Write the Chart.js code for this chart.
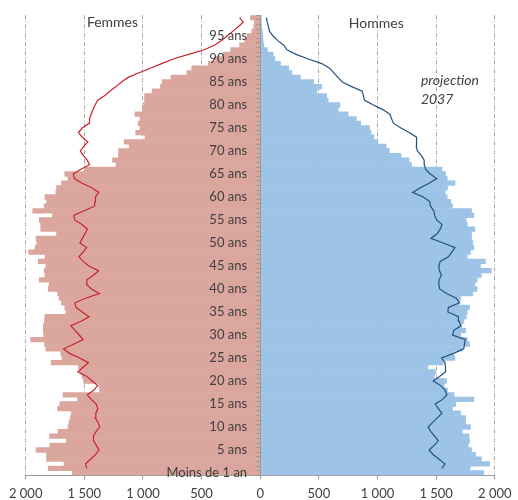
<!DOCTYPE html>
<html><head><meta charset="utf-8">
<script src="https://cdn.jsdelivr.net/npm/chart.js@4.4.0/dist/chart.umd.min.js"></script>
<style>html,body{margin:0;padding:0;background:#fff;}canvas{display:block;}</style>
</head><body>
<canvas id="c" width="518" height="500"></canvas>
<script>
// Ages 0..99 (index = age)
const categories = Array.from({length: 100}, (_, a) => a === 0 ? 'Moins de 1 an' : a + (a === 1 ? ' an' : ' ans'));

const femmes = [1602,1808,1673,1822,1822,1912,1794,1653,1797,1725,
 1639,1630,1620,1610,1728,1709,1558,1681,1370,1375,
 1506,1518,1535,1550,1783,1690,1700,1828,1840,1958,
 1847,1850,1850,1840,1836,1658,1667,1695,1715,1728,
 1808,1800,1884,1836,1842,1828,1893,1836,1974,1920,
 1906,1912,1737,1872,1872,1884,1771,1940,1842,1822,
 1836,1743,1737,1695,1639,1667,1490,1230,1259,1209,
 1209,1118,1160,983,1062,1025,1040,1025,1068,1006,
 998,986,986,922,851,837,761,626,584,443,
 387,317,252,176,133,111,72,55,49,83];

const hommes = [1906,1790,1955,1886,1836,1802,1773,1785,1780,1723,
 1793,1751,1751,1709,1639,1667,1822,1653,1597,1568,
 1588,1484,1495,1430,1560,1660,1650,1723,1785,1765,
 1709,1751,1718,1737,1757,1765,1785,1695,1709,1813,
 1850,1830,1850,1886,1971,1878,1920,1765,1793,1822,
 1813,1802,1802,1830,1765,1757,1822,1802,1639,1625,
 1594,1577,1597,1661,1594,1580,1550,1290,1270,1200,
 1101,1074,1003,970,946,932,857,820,750,665,
 679,580,567,483,525,454,342,270,243,173,
 125,110,61,30,24,22,18,12,10,8];

// Projection 2037 (no value for age 0)
const projFemmes = [null,1480,1490,1447,1405,1375,1398,1420,1422,1400,
 1369,1383,1407,1402,1385,1398,1441,1474,1420,1386,
 1433,1479,1555,1511,1465,1540,1626,1678,1592,1510,
 1543,1579,1615,1527,1460,1518,1570,1580,1490,1372,
 1440,1481,1478,1422,1379,1462,1509,1546,1512,1480,
 1538,1517,1495,1474,1520,1582,1590,1502,1413,1409,
 1405,1377,1436,1520,1585,1595,1534,1456,1475,1508,
 1534,1505,1470,1517,1550,1518,1460,1456,1442,1426,
 1408,1388,1328,1283,1230,1183,1127,1033,937,841,
 743,612,478,390,330,283,235,188,145,176];

const projHommes = [null,1549,1575,1525,1474,1440,1483,1518,1487,1455,
 1432,1471,1510,1549,1520,1492,1555,1592,1576,1538,
 1475,1530,1580,1580,1575,1546,1650,1735,1742,1749,
 1640,1650,1712,1695,1690,1600,1605,1700,1672,1590,
 1530,1523,1525,1545,1528,1523,1535,1605,1633,1661,
 1560,1456,1508,1535,1550,1505,1488,1480,1452,1445,
 1390,1300,1365,1440,1505,1450,1410,1400,1398,1375,
 1340,1330,1336,1330,1270,1200,1138,1120,1105,1045,
 965,890,880,870,780,700,662,628,592,525,
 410,305,228,200,150,110,80,70,60,52];

const xTicks = [-2000,-1500,-1000,-500,0,500,1000,1500,2000];

const FONT = "Lato, 'Carlito', 'Noto Sans', sans-serif";
const TXT = '#404040';

function fmt(v) {
  v = Math.abs(v);
  return v >= 1000 ? Math.floor(v / 1000) + '\u00a0' + String(v % 1000).padStart(3, '0') : String(v);
}

const annot = {
  id: 'annot',
  afterDraw(chart) {
    const {ctx, chartArea} = chart;
    const x = chart.scales.x;
    ctx.save();
    ctx.fillStyle = TXT;
    ctx.textBaseline = 'middle';
    ctx.textAlign = 'center';
    ctx.font = '14px ' + FONT;
    ctx.fillText('Femmes', x.getPixelForValue(-1260), chartArea.top + 7.5);
    ctx.fillText('Hommes', x.getPixelForValue(990), chartArea.top + 8);
    ctx.textAlign = 'left';
    ctx.font = 'italic 14px ' + FONT;
    ctx.fillText('projection', x.getPixelForValue(1370), chartArea.top + 65.5);
    ctx.fillText('2037', x.getPixelForValue(1370), chartArea.top + 84);
    ctx.restore();
  }
};

const noPad = s => { s.paddingTop = 0; s.paddingBottom = 0; };

new Chart(document.getElementById('c'), {
  type: 'bar',
  data: {
    labels: categories,
    datasets: [
      {type: 'line', label: 'Femmes 2037', data: projFemmes.map(v => v == null ? null : -v),
       borderColor: '#C8232C', borderWidth: 1.2, pointRadius: 0, tension: 0, fill: false, order: 1},
      {type: 'line', label: 'Hommes 2037', data: projHommes,
       borderColor: '#23517E', borderWidth: 1.2, pointRadius: 0, tension: 0, fill: false, order: 1},
      {label: 'Femmes', data: femmes.map(v => -v), backgroundColor: '#DBA69D',
       barPercentage: 1, categoryPercentage: 1, grouped: false, order: 2},
      {label: 'Hommes', data: hommes, backgroundColor: '#9DC3E6',
       barPercentage: 1, categoryPercentage: 1, grouped: false, order: 2}
    ]
  },
  options: {
    indexAxis: 'y',
    responsive: false,
    animation: false,
    devicePixelRatio: 1,
    layout: {padding: {left: 25.7, right: 18.3, top: 15.3, bottom: 0}},
    plugins: {legend: {display: false}, tooltip: {enabled: false}},
    scales: {
      x: {
        type: 'linear', min: -2000, max: 2000,
        afterBuildTicks: s => { s.ticks = xTicks.map(v => ({value: v})); },
        afterFit: s => { s.height = 24.7; s.paddingTop = 0; s.paddingBottom = 0; },
        ticks: {callback: v => fmt(v), font: {family: FONT, size: 13}, color: TXT, padding: 6.5, maxRotation: 0},
        grid: {
          color: c => (c.tick && c.tick.value === 0) ? 'rgba(0,0,0,0)' : '#A6A6A6',
          lineWidth: 1, drawTicks: true, tickLength: 4, tickColor: '#9A9A9A', tickBorderDash: []
        },
        border: {display: true, color: '#9A9A9A', width: 1, dash: [4, 2, 1, 2]}
      },
      y: {
        type: 'category', reverse: true, position: {x: 0}, offset: true,
        ticks: {display: false, autoSkip: false},
        grid: {drawOnChartArea: false, drawTicks: true, tickLength: 4, tickColor: '#9A9A9A', offset: true, z: 1},
        border: {display: true, color: '#9A9A9A', width: 1, z: 1},
        afterFit: noPad
      },
      yl: {
        axis: 'y', type: 'category', reverse: true, position: {x: -112}, offset: true,
        ticks: {autoSkip: false, callback: (v, i) => i % 5 === 0 ? categories[i] : '',
                font: {family: FONT, size: 13}, color: TXT, z: 1, padding: 0},
        grid: {display: false, drawTicks: false},
        border: {display: false},
        afterFit: noPad
      }
    }
  },
  plugins: [annot]
});
</script>
</body></html>
